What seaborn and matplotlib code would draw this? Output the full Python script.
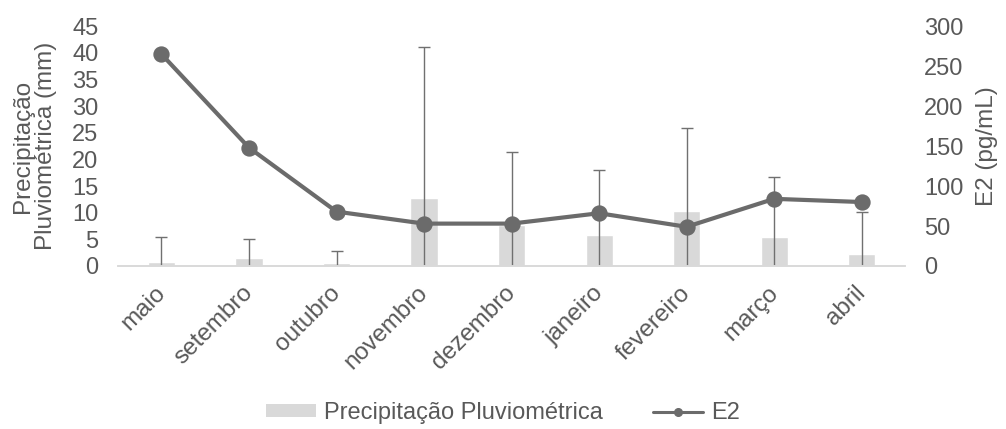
import matplotlib
matplotlib.use("Agg")
import matplotlib.pyplot as plt
import matplotlib.transforms as mtransforms
import seaborn as sns
import pandas as pd
from matplotlib.lines import Line2D
from matplotlib.patches import Patch

meses = ["maio", "setembro", "outubro", "novembro", "dezembro",
         "janeiro", "fevereiro", "março", "abril"]
precipitacao = [0.7, 1.5, 0.5, 12.7, 7.6, 5.8, 10.3, 5.4, 2.2]
precipitacao_dp = [4.7, 3.6, 2.3, 28.4, 13.8, 12.2, 15.5, 11.3, 7.9]
e2 = [265, 148, 68, 53, 53, 66, 49, 84, 80]

cinza_texto = "#595959"
cinza_barra = "#d9d9d9"
cinza_linha = "#6b6b6b"

sns.set_theme(style="white")
plt.rcParams["font.family"] = ["Liberation Sans", "DejaVu Sans"]

dados = pd.DataFrame({"mes": meses, "prec": precipitacao, "e2": e2})

fig = plt.figure(figsize=(10.06, 4.29), dpi=100)
ax = fig.add_axes([0.117, 0.38, 0.783, 0.559])

# barras de precipitação com desvio padrão
sns.barplot(data=dados, x="mes", y="prec", color=cinza_barra, width=0.31,
            saturation=1, ax=ax, zorder=1)
ax.errorbar(range(len(meses)), precipitacao, yerr=precipitacao_dp, fmt="none",
            ecolor="#707070", elinewidth=1, capsize=4.3, capthick=1, zorder=2)

ax.set_ylim(0, 45)
ax.set_yticks(range(0, 46, 5))
ax.set_xlim(-0.5, len(meses) - 0.5)
ax.set_xlabel("")
ax.set_ylabel("Precipitação\nPluviométrica (mm)", color=cinza_texto, fontsize=17.5,
              linespacing=1.05)
ax.yaxis.set_label_coords(-0.0775, 0.5)

# linha do E2 no eixo secundário
ax2 = ax.twinx()
sns.pointplot(data=dados, x="mes", y="e2", color=cinza_linha, markers="o",
              markersize=9.5, linewidth=3, ax=ax2, zorder=3)
ax2.set_ylim(0, 300)
ax2.set_yticks(range(0, 301, 50))
ax2.set_xlim(-0.5, len(meses) - 0.5)
ax2.set_xlabel("")
ax2.set_ylabel("E2 (pg/mL)", color=cinza_texto, fontsize=17.5)
ax2.yaxis.set_label_coords(1.089, 0.5)

for a in (ax, ax2):
    for lado in ("top", "left", "right"):
        a.spines[lado].set_visible(False)
    a.spines["bottom"].set_color(cinza_barra)
    a.spines["bottom"].set_linewidth(1.2)
    a.tick_params(axis="y", colors=cinza_texto, labelsize=17, length=0)
    a.grid(False)
ax.tick_params(axis="y", pad=14)
ax2.tick_params(axis="y", pad=13.5)

ax.tick_params(axis="x", colors=cinza_texto, labelsize=17.5, length=0, pad=11.5)
desloca = mtransforms.ScaledTranslation(-7 / 100, 0, fig.dpi_scale_trans)
for rot in ax.get_xticklabels():
    rot.set_rotation(45)
    rot.set_ha("right")
    rot.set_rotation_mode("anchor")
    rot.set_transform(rot.get_transform() + desloca)
ax2.tick_params(axis="x", length=0, labelbottom=False)

handles = [Patch(facecolor=cinza_barra, edgecolor="none"),
           Line2D([0], [0], color=cinza_linha, lw=2.2, marker="o", markersize=5.5)]
fig.legend(handles, ["Precipitação Pluviométrica", "E2"], loc="center",
           bbox_to_anchor=(0.5, 0.037), ncol=2, frameon=False, fontsize=17,
           labelcolor=cinza_texto, handlelength=2.1, handleheight=0.5,
           columnspacing=2.15, handletextpad=0.33, borderpad=0.1)

fig.savefig("out.png", dpi=100)
